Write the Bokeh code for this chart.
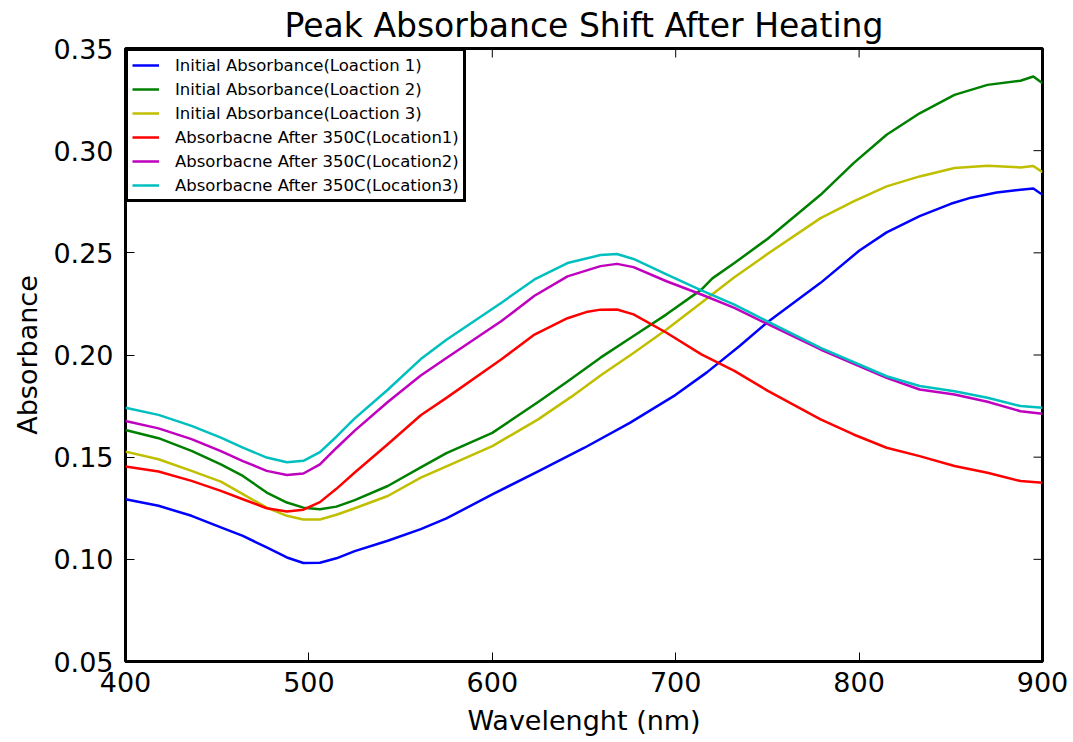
import math
from bokeh.plotting import figure
from bokeh.models import (Range1d, LinearAxis, FixedTicker, NumeralTickFormatter,
                          Legend, LegendItem)
from bokeh.embed import file_html
from bokeh.resources import INLINE

# ---------------- data ----------------
wl_loc1 = [400, 418, 436, 452, 464, 477, 488, 497, 506, 515, 525, 543, 561, 575, 600,
           625, 650, 675, 700, 717, 735, 750, 779, 800, 815, 833, 850, 861, 875, 888,
           895, 900]
init_loc1 = [0.1294, 0.1262, 0.1213, 0.1156, 0.1115, 0.1058, 0.1009, 0.0982, 0.0983,
             0.1005, 0.1040, 0.1091, 0.1148, 0.1200, 0.1318, 0.1430, 0.1545, 0.1668,
             0.1805, 0.1915, 0.2045, 0.2160, 0.2353, 0.2510, 0.2600, 0.2680, 0.2740,
             0.2770, 0.2795, 0.2809, 0.2815, 0.2784]

wl_loc2 = [400, 418, 436, 452, 464, 477, 488, 497, 506, 515, 525, 543, 561, 575, 600,
           625, 641, 659, 677, 695, 714, 720, 732, 750, 779, 797, 815, 833, 852, 870,
           888, 895, 900]
init_loc2 = [0.1633, 0.1593, 0.1531, 0.1465, 0.1408, 0.1327, 0.1278, 0.1253, 0.1245,
             0.1258, 0.1290, 0.1359, 0.1450, 0.1520, 0.1619, 0.1770, 0.1870, 0.1987,
             0.2093, 0.2199, 0.2320, 0.2375, 0.2450, 0.2568, 0.2784, 0.2939, 0.3078,
             0.3183, 0.3273, 0.3322, 0.3342, 0.3363, 0.3330]

wl_loc3 = [400, 418, 436, 452, 464, 477, 488, 497, 506, 515, 525, 543, 561, 575, 600,
           625, 643, 659, 677, 695, 714, 732, 750, 779, 797, 815, 833, 852, 870, 888,
           895, 900]
init_loc3 = [0.1527, 0.1490, 0.1433, 0.1380, 0.1319, 0.1253, 0.1213, 0.1195, 0.1195,
             0.1218, 0.1250, 0.1310, 0.1400, 0.1455, 0.1554, 0.1685, 0.1795, 0.1900,
             0.2010, 0.2125, 0.2256, 0.2380, 0.2494, 0.2670, 0.2752, 0.2825, 0.2874,
             0.2915, 0.2926, 0.2918, 0.2925, 0.2895]

wl_heat1 = [400, 418, 436, 452, 464, 477, 488, 497, 506, 515, 525, 543, 561, 575, 605,
            623, 641, 652, 659, 668, 677, 695, 714, 732, 750, 779, 797, 815, 833, 852,
            870, 888, 900]
heat_loc1 = [0.1454, 0.1430, 0.1384, 0.1335, 0.1294, 0.1250, 0.1234, 0.1243, 0.1280,
             0.1345, 0.1425, 0.1563, 0.1705, 0.1790, 0.1979, 0.2100, 0.2180, 0.2212,
             0.2222, 0.2223, 0.2199, 0.2109, 0.2003, 0.1922, 0.1826, 0.1685, 0.1611,
             0.1546, 0.1505, 0.1457, 0.1424, 0.1383, 0.1375]

wl_heat23 = [400, 418, 436, 452, 464, 477, 488, 497, 506, 515, 525, 543, 561, 575, 605,
             623, 641, 659, 668, 677, 695, 714, 732, 750, 779, 815, 833, 852, 870, 888,
             900]
heat_loc2 = [0.1677, 0.1641, 0.1588, 0.1530, 0.1481, 0.1433, 0.1413, 0.1420, 0.1465,
             0.1545, 0.1630, 0.1770, 0.1900, 0.1985, 0.2166, 0.2290, 0.2385, 0.2435,
             0.2446, 0.2430, 0.2361, 0.2296, 0.2231, 0.2152, 0.2027, 0.1888, 0.1831,
             0.1807, 0.1771, 0.1725, 0.1712]
heat_loc3 = [0.1742, 0.1707, 0.1653, 0.1596, 0.1547, 0.1498, 0.1475, 0.1482, 0.1525,
             0.1600, 0.1690, 0.1830, 0.1980, 0.2075, 0.2256, 0.2370, 0.2450, 0.2489,
             0.2494, 0.2470, 0.2394, 0.2316, 0.2247, 0.2165, 0.2035, 0.1896, 0.1848,
             0.1823, 0.1791, 0.1750, 0.1742]

labels = ["Initial Absorbance(Loaction 1)", "Initial Absorbance(Loaction 2)",
          "Initial Absorbance(Loaction 3)", "Absorbacne After 350C(Location1)",
          "Absorbacne After 350C(Location2)", "Absorbacne After 350C(Location3)"]
colors = ["#0000ff", "#008000", "#bfbf00", "#ff0000", "#bf00bf", "#00bfbf"]

x_ticks = [400, 500, 600, 700, 800, 900]
y_ticks = [0.05, 0.10, 0.15, 0.20, 0.25, 0.30, 0.35]
X_MIN, X_MAX = 400, 900
Y_MIN, Y_MAX = 0.05, 0.35

FONT = "DejaVu Sans"

p = figure(frame_width=917, frame_height=613, output_backend="svg",
           toolbar_location=None, x_range=Range1d(X_MIN, X_MAX),
           y_range=Range1d(Y_MIN, Y_MAX),
           min_border_left=125, min_border_right=31, min_border_top=47,
           min_border_bottom=82, x_axis_location=None, y_axis_location=None)
p.background_fill_color = "white"
p.border_fill_color = "white"
p.outline_line_color = "black"
p.outline_line_width = 3
p.grid.visible = False

p.title.text = "Peak Absorbance Shift After Heating"
p.title.text_font = FONT
p.title.text_font_size = "33px"
p.title.text_font_style = "normal"
p.title.text_color = "black"
p.title.align = "center"
p.title.standoff = 7
p.title.offset = 0


def make_axis(ticks):
    ax = LinearAxis(ticker=FixedTicker(ticks=ticks))
    ax.axis_line_color = None
    ax.major_tick_in = 9
    ax.major_tick_out = 0
    ax.major_tick_line_color = "black"
    ax.major_tick_line_width = 1
    ax.minor_tick_line_color = None
    ax.major_label_text_font = FONT
    ax.major_label_text_color = "black"
    ax.major_label_text_font_size = "27px"
    ax.axis_label_text_font = FONT
    ax.axis_label_text_font_size = "27px"
    ax.axis_label_text_font_style = "normal"
    ax.axis_label_text_color = "black"
    return ax


xb = make_axis(x_ticks)
xb.axis_label = "Wavelenght (nm)"
xb.major_label_standoff = 10
xb.axis_label_standoff = 10
yl = make_axis(y_ticks)
yl.axis_label = "Absorbance"
yl.formatter = NumeralTickFormatter(format="0.00")
yl.major_label_standoff = 12
yl.axis_label_standoff = 7
p.add_layout(xb, "below")
p.add_layout(yl, "left")

# inward tick marks on the top and right edges (matplotlib classic style)
p.ray(x=x_ticks, y=[Y_MAX] * len(x_ticks), length=9, length_units="screen",
      angle=-math.pi / 2, line_color="black", line_width=1)
p.ray(x=[X_MAX] * len(y_ticks), y=y_ticks, length=9, length_units="screen",
      angle=math.pi, line_color="black", line_width=1)

series = [(wl_loc1, init_loc1), (wl_loc2, init_loc2), (wl_loc3, init_loc3),
          (wl_heat1, heat_loc1), (wl_heat23, heat_loc2), (wl_heat23, heat_loc3)]
items = []
for (xs, ys), lab, col in zip(series, labels, colors):
    r = p.line(x=xs, y=ys, line_color=col, line_width=2.5, line_join="round")
    items.append(LegendItem(label=lab, renderers=[r]))

legend = Legend(items=items, location="top_left", margin=0, padding=4,
                spacing=4, glyph_width=27, glyph_height=20, label_height=20,
                label_standoff=16, label_text_font=FONT, label_text_color="black",
                label_text_font_size="16.5px", border_line_color="black",
                border_line_alpha=1.0, border_line_width=3,
                background_fill_color="white", background_fill_alpha=1.0)
p.add_layout(legend, "center")

open("out.html", "w").write(file_html(p, INLINE))
